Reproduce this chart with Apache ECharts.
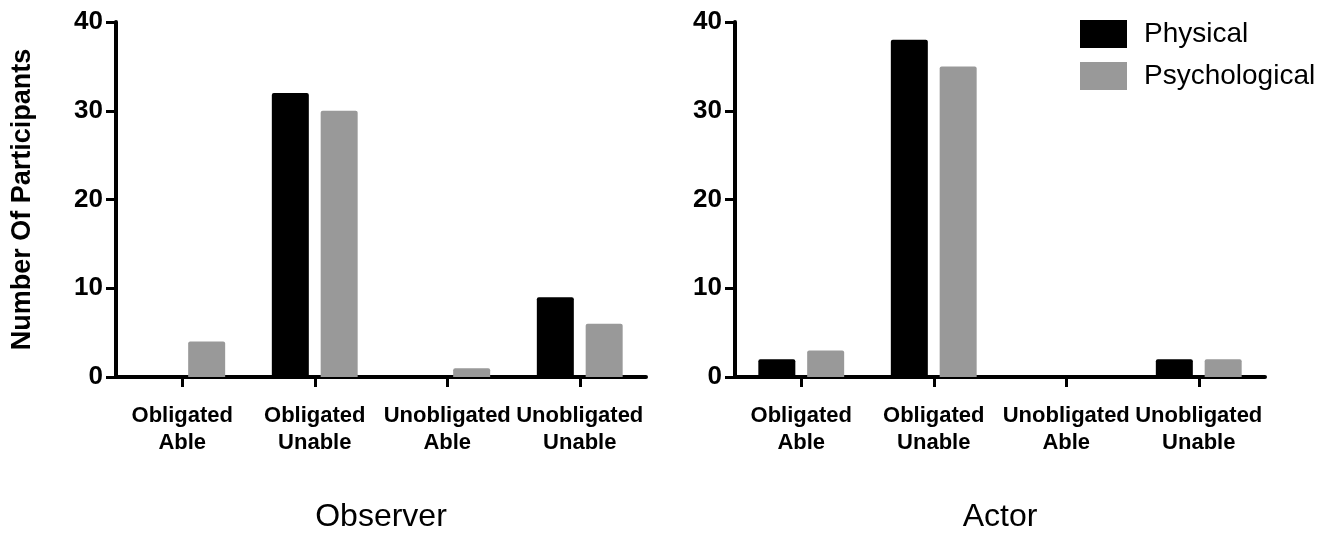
<!DOCTYPE html>
<html>
<head>
<meta charset="utf-8">
<script src="https://cdn.jsdelivr.net/npm/echarts@6/dist/echarts.min.js"></script>
<style>html,body{margin:0;padding:0;background:#fff}#c{width:1326px;height:533px}</style>
</head>
<body>
<div id="c"></div>
<script>
const categories = ['Obligated\nAble', 'Obligated\nUnable', 'Unobligated\nAble', 'Unobligated\nUnable'];
const seriesNames = ['Physical', 'Psychological'];
const observerPhysical = [0, 32, 0, 9];
const observerPsychological = [4, 30, 1, 6];
const actorPhysical = [2, 38, 0, 2];
const actorPsychological = [3, 35, 0, 2];
const yTicks = { min: 0, max: 40, interval: 10 };
const panelTitles = ['Observer', 'Actor'];
const yTitle = 'Number Of Participants';

const FONT = 'Liberation Sans, Arial, Helvetica, sans-serif';
const colors = ['#000000', '#999999'];

function xAxis(idx, name) {
  return {
    type: 'category', gridIndex: idx, data: categories,
    name: name, nameLocation: 'middle', nameGap: 124,
    nameTextStyle: { fontFamily: FONT, fontSize: 32, color: '#000' },
    axisLine: { lineStyle: { color: '#000', width: 4 } },
    axisTick: { show: true, alignWithLabel: true, length: 10, lineStyle: { color: '#000', width: 3 } },
    axisLabel: { fontFamily: FONT, fontSize: 22, fontWeight: 'bold', color: '#000', margin: 25, lineHeight: 27, interval: 0 }
  };
}
function yAxis(idx, name) {
  return {
    type: 'value', gridIndex: idx, min: yTicks.min, max: yTicks.max, interval: yTicks.interval,
    name: name, nameLocation: 'middle', nameGap: 80,
    nameTextStyle: { fontFamily: FONT, fontSize: 27, fontWeight: 'bold', color: '#000' },
    axisLine: { show: true, lineStyle: { color: '#000', width: 4 } },
    axisTick: { show: true, length: 10, lineStyle: { color: '#000', width: 3 } },
    axisLabel: { fontFamily: FONT, fontSize: 26, fontWeight: 'bold', color: '#000', margin: 13 },
    splitLine: { show: false }
  };
}
function bar(name, data, idx, color) {
  return {
    type: 'bar', name: name, data: data, xAxisIndex: idx, yAxisIndex: idx,
    barWidth: 37, barGap: '32%',
    itemStyle: { color: color, borderRadius: [2, 2, 0, 0] },
    emphasis: { disabled: true }, silent: true
  };
}

const chart = echarts.init(document.getElementById('c'), null, { renderer: 'canvas' });
chart.setOption({
  animation: false,
  backgroundColor: '#fff',
  grid: [
    { left: 116, right: 680, top: 22, bottom: 156, outerBoundsMode: 'none', containLabel: false },
    { left: 735, right: 61, top: 22, bottom: 156, outerBoundsMode: 'none', containLabel: false }
  ],
  legend: {
    data: seriesNames, orient: 'vertical', left: 1080, top: 20, padding: 0,
    itemWidth: 47, itemHeight: 28, itemGap: 14,
    icon: 'rect',
    textStyle: { fontFamily: FONT, fontSize: 28, color: '#000', padding: [0, 0, 0, 12] }
  },
  xAxis: [xAxis(0, panelTitles[0]), xAxis(1, panelTitles[1])],
  yAxis: [yAxis(0, yTitle), yAxis(1, '')],
  series: [
    bar(seriesNames[0], observerPhysical, 0, colors[0]),
    bar(seriesNames[1], observerPsychological, 0, colors[1]),
    bar(seriesNames[0], actorPhysical, 1, colors[0]),
    bar(seriesNames[1], actorPsychological, 1, colors[1])
  ]
});
</script>
</body>
</html>
